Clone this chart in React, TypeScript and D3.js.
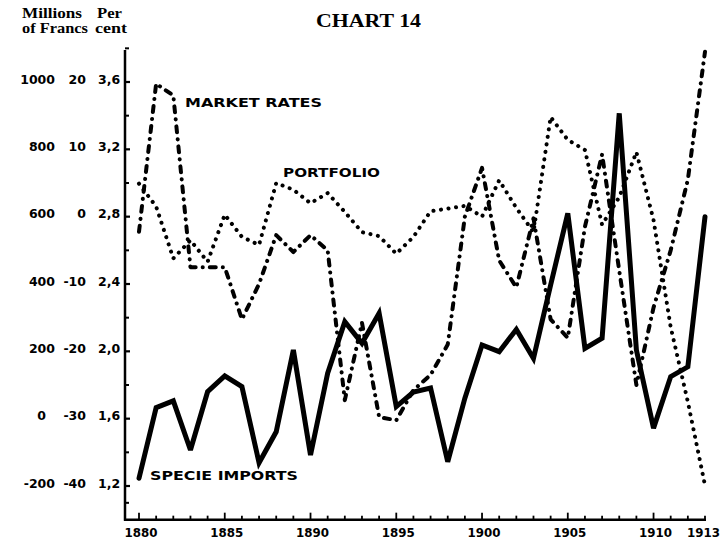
import React from 'react';
import * as d3 from 'd3';

const years = [1880, 1881, 1882, 1883, 1884, 1885, 1886, 1887, 1888, 1889, 1890, 1891, 1892, 1893, 1894, 1895, 1896, 1897, 1898, 1899, 1900, 1901, 1902, 1903, 1904, 1905, 1906, 1907, 1908, 1909, 1910, 1911, 1912, 1913];

// Specie imports, millions of francs
const specieImports = [-177, 33, 53, -93, 80, 127, 95, -131, -39, 204, -108, 135, 288, 224, 313, 36, 79, 91, -128, 61, 219, 199, 265, 179, 397, 610, 209, 239, 907, 204, -28, 125, 154, 600];

// Portfolio, per cent
const portfolio = [4.9, 1.5, -6.2, -3.5, -6.7, 0.3, -3.0, -4.2, 5.0, 4.0, 2.0, 3.5, 0.7, -2.3, -2.9, -5.5, -3.0, 0.8, 1.2, 1.6, 0.0, 5.4, 1.3, -2.3, 14.8, 11.4, 9.9, -1.2, 2.9, 9.6, -0.5, -16.4, -27.5, -39.9];

// Market rates, per cent
const marketRates = [2.71, 3.59, 3.52, 2.5, 2.5, 2.5, 2.19, 2.4, 2.69, 2.59, 2.69, 2.6, 1.71, 2.17, 1.61, 1.59, 1.77, 1.86, 2.04, 2.8, 3.09, 2.54, 2.38, 2.79, 2.19, 2.08, 2.74, 3.17, 2.48, 1.8, 2.26, 2.6, 3.02, 3.78];

const yearLabels = [1880, 1885, 1890, 1895, 1900, 1905, 1910, 1913];
const francTicks = [1000, 800, 600, 400, 200, 0, -200];
const pctTicks = [20, 10, 0, -10, -20, -30, -40];
const rateTicks = [3.6, 3.2, 2.8, 2.4, 2.0, 1.6, 1.2];
const rateMinorTicks = [3.8, 3.4, 3.0, 2.6, 2.2, 1.8, 1.4, 1.1];

const SANS = '"DejaVu Sans", Verdana, sans-serif';
const SERIF = '"Liberation Serif", "Times New Roman", serif';

export default function App() {
  const W = 722;
  const H = 542;
  const x = d3.scaleLinear().domain([1880, 1913]).range([139, 705]);
  const yRate = d3.scaleLinear().domain([1.2, 3.6]).range([486, 82]);
  const yFr = d3.scaleLinear().domain([-200, 1000]).range([486, 82]);
  const yPct = d3.scaleLinear().domain([-40, 20]).range([486, 82]);

  const axisX = 125;
  const axisBottom = yRate(1.0);
  const axisTop = yRate(3.79);

  const specieLine = d3.line<number>().x((_, i) => x(years[i])).y((d) => yFr(d))(specieImports) || '';
  const portLine = d3.line<number>().x((_, i) => x(years[i])).y((d) => yPct(d))(portfolio) || '';
  const rateLine = d3.line<number>().x((_, i) => x(years[i])).y((d) => yRate(d))(marketRates) || '';

  const tickFmt = (v: number) => v.toFixed(1).replace('.', ',');
  const labelW = 33;

  return (
    <svg width={W} height={H} style={{ position: 'absolute', left: 0, top: 0, background: '#fff' }}>
      <rect width={W} height={H} fill="#fff" />
      {/* headers */}
      <g fontFamily={SERIF} fontWeight="bold" fill="#000">
        <text x={22} y={18} fontSize={15} textLength={60} lengthAdjust="spacingAndGlyphs">Millions</text>
        <text x={97} y={18} fontSize={15} textLength={25} lengthAdjust="spacingAndGlyphs">Per</text>
        <text x={22} y={33} fontSize={15} textLength={66} lengthAdjust="spacingAndGlyphs">of Francs</text>
        <text x={95} y={33} fontSize={15} textLength={32} lengthAdjust="spacingAndGlyphs">cent</text>
        <text x={316} y={26.5} fontSize={19} textLength={105} lengthAdjust="spacingAndGlyphs">CHART 14</text>
      </g>

      {/* y axis */}
      <line x1={axisX} x2={axisX} y1={axisTop} y2={axisBottom + 1} stroke="#000" strokeWidth={2.5} />
      {rateTicks.map((t) => (
        <line key={'rt' + t} x1={axisX} x2={axisX + 5} y1={yRate(t)} y2={yRate(t)} stroke="#000" strokeWidth={2.2} />
      ))}
      {rateMinorTicks.map((t) => (
        <line key={'rm' + t} x1={axisX} x2={axisX + 4} y1={yRate(t)} y2={yRate(t)} stroke="#000" strokeWidth={2} />
      ))}

      {/* x axis */}
      <line x1={axisX - 1} x2={x(1913) + 1} y1={axisBottom} y2={axisBottom} stroke="#000" strokeWidth={2.5} />
      {years.map((yr) => {
        const major = yr % 5 === 0;
        return (
          <line key={'xt' + yr} x1={x(yr)} x2={x(yr)} y1={axisBottom} y2={axisBottom - (major ? 7 : 4)} stroke="#000" strokeWidth={1.8} />
        );
      })}

      {/* tick labels */}
      <g fontFamily={SANS} fontWeight="bold" fontSize={12.5} fill="#000">
        {francTicks.map((t) => (
          <text key={'f' + t} x={t === 0 ? 46 : 55} y={yFr(t) + 1.5} textAnchor="end">{String(t)}</text>
        ))}
        {pctTicks.map((t) => (
          <text key={'p' + t} x={86} y={yPct(t) + 1.5} textAnchor="end">{String(t)}</text>
        ))}
        {rateTicks.map((t) => (
          <text key={'r' + t} x={98} y={yRate(t) + 1.5} textAnchor="start">{tickFmt(t)}</text>
        ))}
        {yearLabels.map((yr) => {
          const cx = Math.min(x(yr) + 2, W - 2 - labelW / 2);
          return (
            <text key={'y' + yr} x={cx - labelW / 2} y={537} fontSize={12.5} textLength={labelW} lengthAdjust="spacingAndGlyphs">{String(yr)}</text>
          );
        })}
      </g>

      {/* series */}
      <path d={specieLine} fill="none" stroke="#000" strokeWidth={5} strokeLinejoin="miter" strokeMiterlimit={3} strokeLinecap="round" />
      <path d={portLine} fill="none" stroke="#000" strokeWidth={4} strokeLinecap="round" strokeLinejoin="round" strokeDasharray="0.1 7.5" />
      <path d={rateLine} fill="none" stroke="#000" strokeWidth={4} strokeLinecap="round" strokeLinejoin="round" strokeDasharray="6 7 0.1 7" />

      {/* series labels */}
      <g fontFamily={SANS} fontWeight="bold" fontSize={13} fill="#000">
        <text x={185} y={107} textLength={137} lengthAdjust="spacingAndGlyphs">MARKET RATES</text>
        <text x={283} y={176.5} textLength={97} lengthAdjust="spacingAndGlyphs">PORTFOLIO</text>
        <text x={150} y={480} textLength={148} lengthAdjust="spacingAndGlyphs">SPECIE IMPORTS</text>
      </g>
    </svg>
  );
}
